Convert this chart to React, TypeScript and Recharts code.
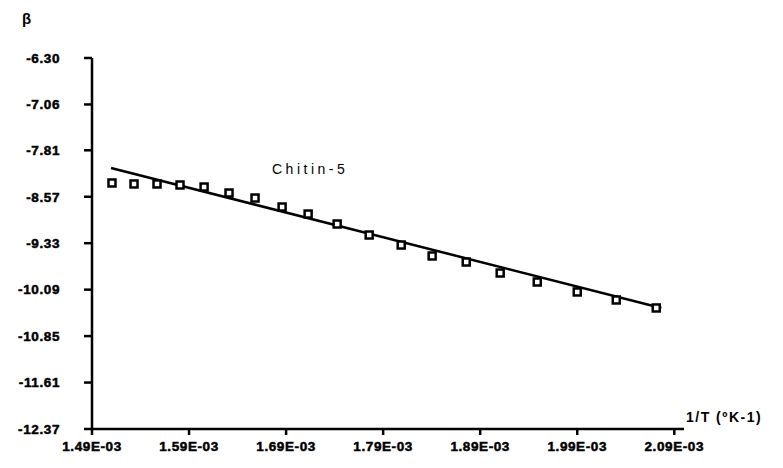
import {
  ScatterChart,
  Scatter,
  XAxis,
  YAxis,
  ReferenceLine,
} from "recharts";

// 1/T values (K^-1) and beta for each measured point
const invT = [
  0.0015106, 0.0015333, 0.001557, 0.0015807, 0.0016055, 0.0016312, 0.001658,
  0.0016859, 0.0017127, 0.0017426, 0.0017756, 0.0018086, 0.0018405, 0.0018756,
  0.0019106, 0.0019488, 0.00199, 0.0020302, 0.0020714,
];
const beta = [
  -8.345, -8.361, -8.361, -8.378, -8.411, -8.509, -8.591, -8.738, -8.853,
  -9.016, -9.196, -9.36, -9.539, -9.638, -9.818, -9.965, -10.128, -10.259,
  -10.39,
];

// fitted regression line end points
const fitX = [0.0015096, 0.0020766];
const fitY = [-8.1, -10.39];

const xTicks = [0.00149, 0.00159, 0.00169, 0.00179, 0.00189, 0.00199, 0.00209];
const xTickLabels = [
  "1.49E-03",
  "1.59E-03",
  "1.69E-03",
  "1.79E-03",
  "1.89E-03",
  "1.99E-03",
  "2.09E-03",
];
const yTicks = [-12.37, -11.61, -10.85, -10.09, -9.33, -8.57, -7.81, -7.06, -6.3];

const points = invT.map((x, i) => ({ x, y: beta[i] }));

const tickStyle = {
  fill: "#000",
  stroke: "#000",
  strokeWidth: 0.5,
  fontSize: 13.5,
  fontWeight: 700,
  letterSpacing: 0.6,
  fontFamily: "Liberation Sans, Arial, sans-serif",
};

const SquareMarker = (props: any) => {
  const { cx, cy } = props;
  if (cx == null || cy == null) return null;
  return (
    <rect
      x={cx - 3.5}
      y={cy - 3.5}
      width={7}
      height={7}
      fill="#fff"
      stroke="#000"
      strokeWidth={2.5}
    />
  );
};

export default function App() {
  return (
    <div
      style={{
        position: "absolute",
        left: 0,
        top: 0,
        width: 783,
        height: 468,
        background: "#fff",
        fontFamily: "Liberation Sans, Arial, sans-serif",
      }}
    >
      <ScatterChart
        width={783}
        height={468}
        margin={{ top: 58, right: 99, bottom: 0, left: 0 }}
      >
        <XAxis
          type="number"
          dataKey="x"
          domain={[0.00149, 0.0021]}
          ticks={xTicks}
          tickFormatter={(_v, i) => xTickLabels[i]}
          tick={tickStyle}
          tickSize={6}
          tickMargin={6}
          height={39}
          stroke="#000"
          strokeWidth={2.5}
          interval={0}
        />
        <YAxis
          type="number"
          dataKey="y"
          domain={[-12.37, -6.3]}
          ticks={yTicks}
          tickFormatter={(v) => v.toFixed(2)}
          tick={tickStyle}
          tickSize={8}
          tickMargin={24}
          width={92}
          stroke="#000"
          strokeWidth={2.5}
          interval={0}
        />
        <Scatter
          data={points}
          shape={<SquareMarker />}
          isAnimationActive={false}
        />
        <ReferenceLine
          segment={[
            { x: fitX[0], y: fitY[0] },
            { x: fitX[1], y: fitY[1] },
          ]}
          stroke="#000"
          strokeWidth={2.5}
          ifOverflow="visible"
        />
      </ScatterChart>
      <div
        style={{
          position: "absolute",
          left: 22,
          top: 10,
          fontSize: 15,
          fontWeight: 700,
        }}
      >
        β
      </div>
      <div
        style={{
          position: "absolute",
          left: 272,
          top: 161,
          fontSize: 14,
          letterSpacing: 3.5,
        }}
      >
        Chitin-5
      </div>
      <div
        style={{
          position: "absolute",
          left: 686,
          top: 409,
          fontSize: 14,
          fontWeight: 700,
          letterSpacing: 1.5,
          whiteSpace: "nowrap",
        }}
      >
        1/T (ºK-1)
      </div>
    </div>
  );
}
